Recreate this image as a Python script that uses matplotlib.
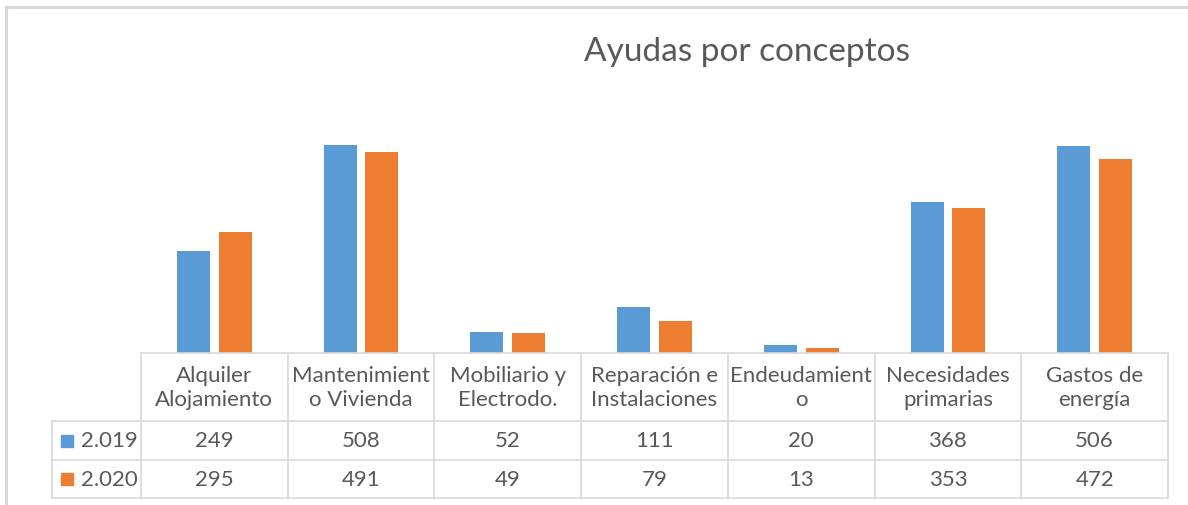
import matplotlib.pyplot as plt
import numpy as np

plt.rcParams['font.family'] = ['Lato', 'DejaVu Sans']

categories = ['Alquiler\nAlojamiento', 'Mantenimient\no Vivienda', 'Mobiliario y\nElectrodo.',
              'Reparación e\nInstalaciones', 'Endeudamient\no', 'Necesidades\nprimarias',
              'Gastos de\nenergía']
years = ['2.019', '2.020']
values_2019 = [249, 508, 52, 111, 20, 368, 506]
values_2020 = [295, 491, 49, 79, 13, 353, 472]

colors = ['#5B9BD5', '#ED7D31']
text_color = '#595959'
grid_color = '#D9D9D9'

W, H = 1188, 506
fig = plt.figure(figsize=(W / 100, H / 100), dpi=100)

# chart border (only top and left visible in the crop)
fig.add_artist(plt.Line2D([6 / W, 6 / W], [0, 1 - 8 / H], color=grid_color, lw=2.2))
fig.add_artist(plt.Line2D([6 / W, 1], [1 - 8 / H, 1 - 8 / H], color=grid_color, lw=2.2))

# plot area
x0, x1 = 141, 1168
ax = fig.add_axes([x0 / W, (H - 354) / H, (x1 - x0) / W, (354 - 108) / H])
x = np.arange(len(categories))
bw = 0.225
off = 0.1425
ax.bar(x - off, values_2019, width=bw, color=colors[0])
ax.bar(x + off, values_2020, width=bw, color=colors[1])
ax.set_xlim(-0.5, len(categories) - 0.5)
ax.set_ylim(0, 600)
ax.axis('off')

fig.text(747 / W, 1 - 52 / H, 'Ayudas por conceptos', ha='center', va='center',
         fontsize=24, color=text_color)

# data table
colw = (x1 - x0) / len(categories)
leg_w = (x0 - 52) / colw
tab = fig.add_axes([52 / W, (H - 499) / H, (x1 - 52) / W, (499 - 354) / H])
tab.set_xlim(-0.5 - leg_w, len(categories) - 0.5)
tab.set_ylim(145, 0)
tab.axis('off')

rows = [0, 68, 107, 145]
lw = 1.2
tab.plot([-0.5, len(categories) - 0.5], [rows[0], rows[0]], color=grid_color, lw=lw, clip_on=False)
for r in rows[1:]:
    tab.plot([-0.5 - leg_w, len(categories) - 0.5], [r, r], color=grid_color, lw=lw, clip_on=False)
for i in range(len(categories) + 1):
    tab.plot([i - 0.5, i - 0.5], [rows[0], rows[3]], color=grid_color, lw=lw, clip_on=False)
tab.plot([-0.5 - leg_w, -0.5 - leg_w], [rows[1], rows[3]], color=grid_color, lw=lw, clip_on=False)

fs = 16
for i, c in enumerate(categories):
    tab.text(i, (rows[0] + rows[1]) / 2, c, ha='center', va='center', fontsize=fs,
             color=text_color, linespacing=1.3)

for j, vals in enumerate([values_2019, values_2020]):
    yc = (rows[j + 1] + rows[j + 2]) / 2
    for i, v in enumerate(vals):
        tab.text(i, yc, str(v), ha='center', va='center', fontsize=fs, color=text_color)
    kx = -0.5 - leg_w + 9 / colw
    tab.add_patch(plt.Rectangle((kx, yc - 6), 12 / colw, 12, color=colors[j], clip_on=False))
    tab.text(-0.5 - leg_w + 29 / colw, yc, years[j], ha='left', va='center', fontsize=fs,
             color=text_color)

fig.savefig('out.png', dpi=100)
